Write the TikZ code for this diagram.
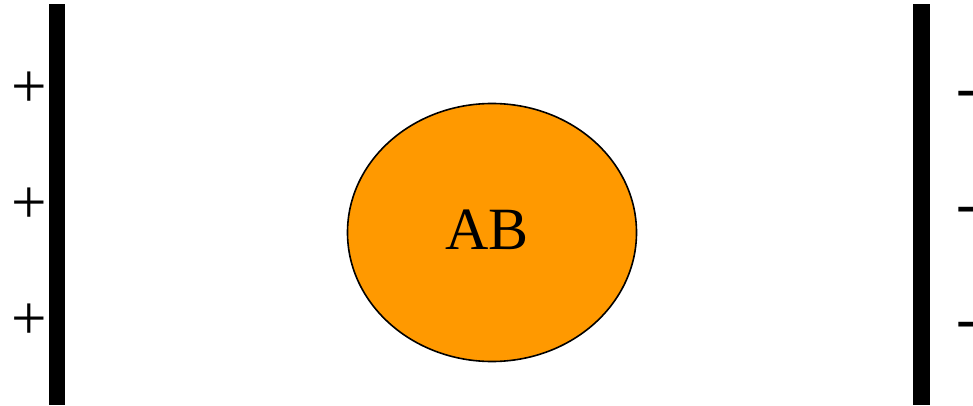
\documentclass[tikz,border=0pt]{standalone}
\usepackage{fontspec}
\setmainfont{Liberation Serif}
\newfontfamily\timesfont{Liberation Serif}
\usetikzlibrary{shapes.geometric}
\definecolor{ballorange}{RGB}{255,153,0}
\begin{document}
\begin{tikzpicture}[x=1pt,y=-1pt,
  bar/.style={fill=black,draw=none},
  charge/.style={inner sep=0pt,anchor=base,font=\timesfont\fontsize{63}{70}\selectfont},
  ball/.style={ellipse,draw=black,line width=1.6pt,fill=ballorange,inner sep=0pt,
    minimum width=289pt,minimum height=258pt,text height=33pt,text depth=0pt,
    font=\timesfont\fontsize{60}{70}\selectfont}]
\useasboundingbox (0,0) rectangle (973,406);
% plates
\fill[bar] (49,4) rectangle (65,405);
\fill[bar] (913,4) rectangle (930,405);
% charges
\node[charge] (p1) at (29.5,107.5) {+};
\node[charge] (p2) at (29.5,223) {+};
\node[charge] (p3) at (29.5,339) {+};
\node[charge] (m1) at (966.5,108.5) {-};
\node[charge] (m2) at (966.5,224.5) {-};
\node[charge] (m3) at (966.5,339.5) {-};
% molecule
\node[ball] (ab) at (492,232.5) {AB\hspace*{10pt}};
\end{tikzpicture}
\end{document}
